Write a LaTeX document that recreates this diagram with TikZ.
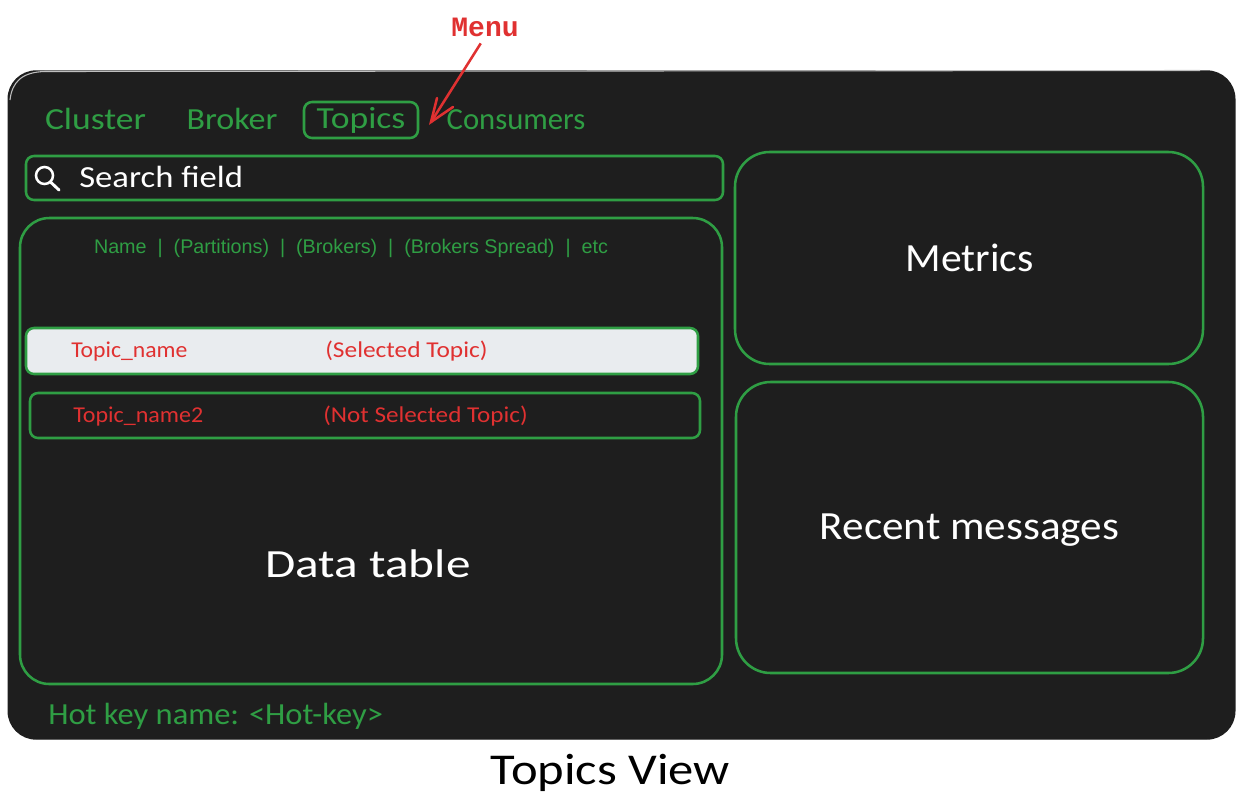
\documentclass[tikz,border=0pt]{standalone}
\usepackage{fontspec}
\setmainfont{Carlito}
\newfontfamily\headfont{Liberation Sans}
\newfontfamily\menufont{Liberation Mono}
\definecolor{panelgray}{HTML}{1E1E1E}
\definecolor{boxgreen}{HTML}{2F9E44}
\definecolor{notered}{HTML}{E03131}
\definecolor{rowgray}{HTML}{E9ECEF}
\tikzset{
  box/.style={draw=boxgreen,line width=1.9pt,inner sep=0pt,anchor=center},
  greentext/.style={text=boxgreen,inner sep=0pt,font=\fontsize{23}{23}\selectfont},
  redtext/.style={text=notered,inner sep=0pt,font=\fontsize{17}{17}\selectfont},
  whitetext/.style={text=white,inner sep=0pt,font=\fontsize{30}{30}\selectfont},
}
\begin{document}
\begin{tikzpicture}[x=0.75pt,y=-0.75pt]
        \useasboundingbox (0,0) rectangle (1244,807);
        % background panel
        \node [fill=panelgray,draw=panelgray,line width=1pt,rounded corners=21pt,minimum width=920pt,minimum height=501pt,inner sep=0pt] (panel) at (621.5,405) {};
        \draw [white!75!black,line width=0.8pt] (10,100) .. controls (12,82) and (22,72) .. (45,71.5) -- (1200,70.5);
        % menu
        \node [greentext,xscale=1.16] (cluster) at (95.5,119) {Cluster};
        \node [greentext,xscale=1.11] (broker) at (232,119) {Broker};
        \node [box,rounded corners=6pt,minimum width=85.5pt,minimum height=27pt] (topicsbox) at (361,120) {};
        \node [greentext,xscale=1.16] (topics) at (361,120) {Topics};
        \node [greentext] (consumers) at (516,120) {Consumers};
        \node [text=notered,inner sep=0pt,font=\menufont\bfseries\fontsize{21}{21}\selectfont] (menu) at (485,27) {Menu};
        \coordinate (menutip) at (431,122);
        \draw [notered,line width=1.9pt,shorten <=6pt] (menu.south) -- (menutip);
        \draw [notered,line width=1.9pt,line cap=round] (437,98) -- (menutip) -- (453,107);
        % search
        \node [box,rounded corners=6pt,minimum width=522.75pt,minimum height=33pt] (searchbox) at (374.5,178) {};
        \node [text=white,inner sep=0pt,font=\fontsize{23}{23}\selectfont,anchor=west,xscale=1.13] (search) at (79,177) {Search field};
        \draw [white,line width=1.9pt] (44.5,175.5) circle [radius=8.5];
        \draw [white,line width=2.2pt,line cap=round] (50.5,182) -- (59,190);
        % data table
        \node [box,rounded corners=22pt,minimum width=526.5pt,minimum height=349.5pt] (tablebox) at (371,451) {};
        \node [whitetext,xscale=1.23] (datatable) at (368,564) {Data table};
        \node [text=boxgreen,inner sep=0pt,font=\headfont\fontsize{14.8}{15}\selectfont] (header) at (351,248) {Name \ | \ (Partitions) \ | \ (Brokers) \ | \ (Brokers Spread) \ | \ etc};
        \node [box,fill=rowgray,rounded corners=6pt,minimum width=504pt,minimum height=34.5pt] (rowone) at (362,351) {};
        \node [redtext,anchor=west,xscale=1.045] (nameone) at (71,352) {Topic\_name};
        \node [redtext,anchor=west,xscale=1.12] (stateone) at (325,351) {(Selected Topic)};
        \node [box,rounded corners=6pt,minimum width=502.5pt,minimum height=33.75pt] (rowtwo) at (365,415.5) {};
        \node [redtext,anchor=west,xscale=1.06] (nametwo) at (73,417) {Topic\_name2};
        \node [redtext,anchor=west,xscale=1.11] (statetwo) at (323,416) {(Not Selected Topic)};
        % right side
        \node [box,rounded corners=26pt,minimum width=351pt,minimum height=159pt] (metricsbox) at (969,258) {};
        \node [whitetext,xscale=1.04] (metrics) at (969.5,258) {Metrics};
        \node [box,rounded corners=26pt,minimum width=350.25pt,minimum height=218.25pt] (recentbox) at (969.5,527.5) {};
        \node [whitetext,xscale=1.08] (recent) at (969.5,530) {Recent messages};
        % footer
        \node [greentext,anchor=west,xscale=1.06] (hotkey) at (48,716) {Hot key name: <Hot-key>};
        \node [text=black,inner sep=0pt,font=\fontsize{33}{33}\selectfont,xscale=1.15] (title) at (610.5,773) {Topics View};
    \end{tikzpicture}
\end{document}
